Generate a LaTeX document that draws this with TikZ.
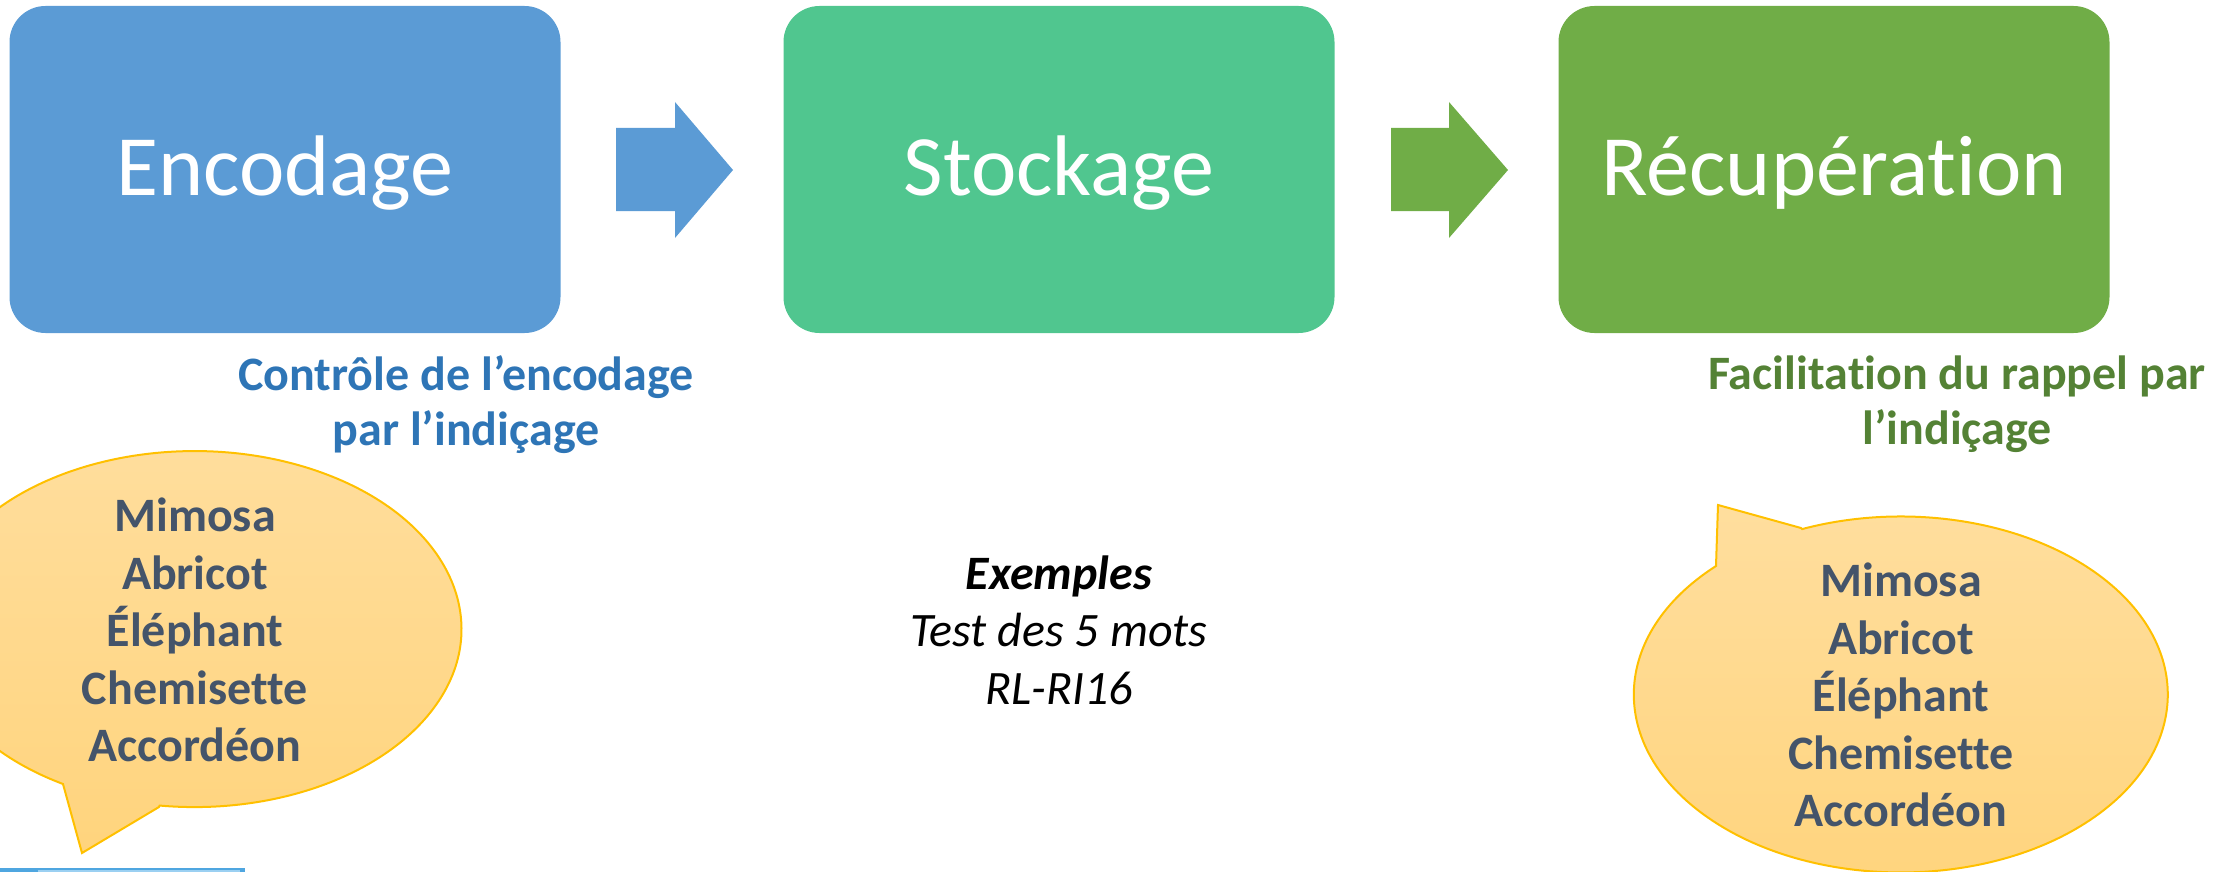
\documentclass[tikz,border=0pt]{standalone}
\usepackage{fontspec}
\setmainfont{Carlito}[RawFeature={-liga;-clig;-calt;-dlig}]
\usetikzlibrary{calc}
\definecolor{encblue}{HTML}{5B9BD5}
\definecolor{stockgreen}{HTML}{50C68F}
\definecolor{recgreen}{HTML}{70AD47}
\definecolor{lblblue}{HTML}{2E75B6}
\definecolor{lblgreen}{HTML}{548235}
\definecolor{wordslate}{HTML}{44546A}
\definecolor{bubbleedge}{HTML}{FFC000}
\definecolor{bubbletop}{HTML}{FFDE9E}
\definecolor{bubblebot}{HTML}{FFD47D}
\definecolor{barblue}{HTML}{4FA6E0}
\definecolor{barlight}{HTML}{9BD0F2}
\begin{document}
\begin{tikzpicture}[x={(0.5pt,0)}, y={(0,-0.5pt)},
  stagebox/.style={rounded corners=18pt, minimum width=275.5pt, minimum height=163.5pt,
    inner sep=0pt, text=white, font=\fontsize{43}{50}\selectfont,
    text height=30pt, text depth=3.5pt},
  lbl/.style={font=\fontsize{24}{27.5}\selectfont\bfseries, align=center, inner sep=0pt},
  words/.style={font=\fontsize{24}{28.8}\selectfont\bfseries, align=center, inner sep=0pt, text=wordslate},
  bubble/.style={draw=bubbleedge, line width=1pt, top color=bubbletop, bottom color=bubblebot}]
\useasboundingbox (0,0) rectangle (2229,872);

% stage boxes
\node[stagebox, fill=encblue] (enc) at (285,169.5) {Encodage};
\node[stagebox, fill=stockgreen] (sto) at (1059,169.5) {Stockage};
\node[stagebox, fill=recgreen] (rec) at (1834,169.5) {Récupérat\kern0pt ion};

% block arrows
\fill[encblue] (616,128) -- (675,128) -- (675,102) -- (733,170) -- (675,238) -- (675,211) -- (616,211) -- cycle;
\fill[recgreen] (1391,128) -- (1449,128) -- (1449,102) -- (1508,170) -- (1449,238) -- (1449,211) -- (1391,211) -- cycle;

% labels
\node[lbl, text=lblblue] (encl) at (466,404.5) {Contrôle de l’encodage\\par l’indiçage};
\node[lbl, text=lblgreen] (recl) at (1957,404.5) {Facilit\kern0pt at\kern0pt ion du rappel par\\l’indiçage};

% bubbles
\path[bubble] (159,807) -- (82,853) -- (63,784)
  arc[start angle=119.5, end angle=457.5, x radius=267, y radius=178] -- cycle;
\path[bubble] (1801,528) -- (1718,505) -- (1716,566)
  arc[start angle=226.2, end angle=-111.7, x radius=267, y radius=178] -- cycle;
\node[words] (wl) at (195,630) {Mimosa\\Abricot\\Éléphant\\Chemiset\kern0pt te\\Accordéon};
\node[words] (wr) at (1901,695) {Mimosa\\Abricot\\Éléphant\\Chemiset\kern0pt te\\Accordéon};

% examples
\node[font=\fontsize{24}{28.8}\selectfont\itshape, align=center, inner sep=0pt] (ex) at (1059,630)
  {\textbf{Exemples}\\Test des 5 mots\\RL-RI16};

% partial bar bottom left
\fill[barblue] (0,868) rectangle (245,872);
\fill[barlight] (38,870) rectangle (240,872);
\end{tikzpicture}
\end{document}
